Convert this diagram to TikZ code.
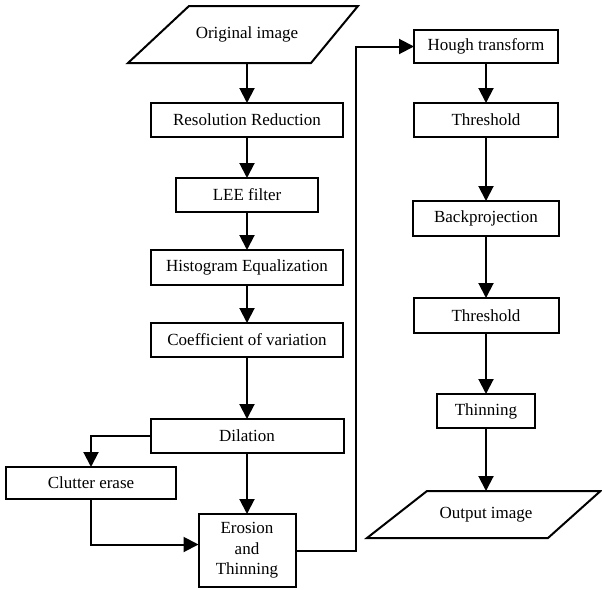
\documentclass[tikz,border=0pt]{standalone}
\usepackage{fontspec}
\setmainfont{Liberation Serif}
\usetikzlibrary{arrows.meta}
\begin{document}
\begin{tikzpicture}[x=1pt,y=-1pt,
  lw/.style={line width=2pt},
  box/.style={draw,lw,rectangle,inner sep=0pt,outer sep=0pt,align=center,
    font=\fontsize{17}{20.5}\selectfont},
  txt/.style={inner sep=0pt,outer sep=0pt,align=center,font=\fontsize{17}{20.5}\selectfont},
  arr/.style={lw,-{Triangle[width=15pt,length=15pt]}},
  ln/.style={lw}]
\useasboundingbox (0,0) rectangle (602,589);
% parallelograms
\draw[lw,line join=miter] (128,63) -- (189,6) -- (358,6) -- (311,63) -- cycle;
\node[txt,minimum height=57pt,minimum width=120pt] (orig) at (247,34.5) {Original image};
\draw[lw,line join=miter] (367,538) -- (427,491) -- (600.5,491) -- (548,538) -- cycle;
\node[txt,minimum height=47pt,minimum width=120pt] (out) at (486,514.5) {Output image};
% left column
\node[box,minimum width=192pt,minimum height=34pt] (res) at (247,120) {Resolution Reduction};
\node[box,minimum width=142pt,minimum height=34pt] (lee) at (247,195) {LEE filter};
\node[box,minimum width=192pt,minimum height=35pt] (hist) at (247,267.5) {Histogram Equalization};
\node[box,minimum width=192pt,minimum height=34pt] (coef) at (247,340) {Coefficient of variation};
\node[box,minimum width=193pt,minimum height=34pt] (dil) at (247,436) {Dilation};
\node[box,minimum width=170pt,minimum height=32pt] (clut) at (91,483) {Clutter erase};
\node[box,minimum width=97pt,minimum height=73pt] (eros) at (247,550.5) {Erosion\\and\\Thinning};
% right column
\node[box,minimum width=144pt,minimum height=33pt] (hough) at (486,46.5) {Hough transform};
\node[box,minimum width=144pt,minimum height=34pt] (thr1) at (486,120) {Threshold};
\node[box,minimum width=146pt,minimum height=35pt] (back) at (486,218.5) {Backprojection};
\node[box,minimum width=145pt,minimum height=35pt] (thr2) at (486,315.5) {Threshold};
\node[box,minimum width=98pt,minimum height=34pt] (thin) at (486,411) {Thinning};
\coordinate (rail) at (356,0);
% connectors
\draw[arr] (orig.south) -- (res.north);
\draw[arr] (res.south) -- (lee.north);
\draw[arr] (lee.south) -- (hist.north);
\draw[arr] (hist.south) -- (coef.north);
\draw[arr] (coef.south) -- (dil.north);
\draw[arr] (dil.west) -| (clut.north);
\draw[arr] (dil.south) -- (eros.north);
\draw[arr] (clut.south) |- ([yshift=6pt]eros.west);
\draw[arr] (eros.east) -- (eros.east -| rail) -- (rail |- hough.west) -- (hough.west);
\draw[arr] (hough.south) -- (thr1.north);
\draw[arr] (thr1.south) -- (back.north);
\draw[arr] (back.south) -- (thr2.north);
\draw[arr] (thr2.south) -- (thin.north);
\draw[arr] (thin.south) -- (out.north);
\end{tikzpicture}
\end{document}
